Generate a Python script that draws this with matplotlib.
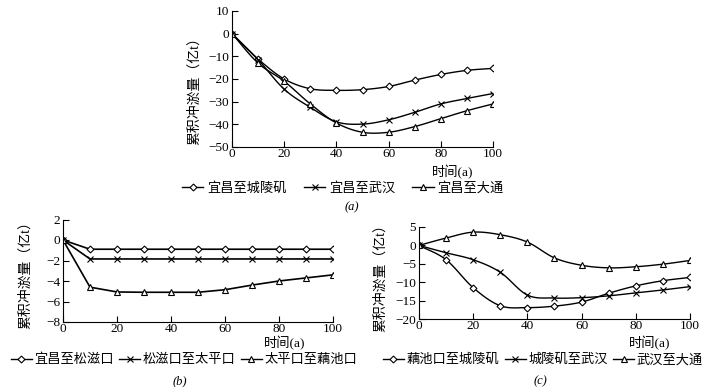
import numpy as np
import matplotlib
matplotlib.use("Agg")
import matplotlib.pyplot as plt

plt.rcParams['font.family'] = ['Liberation Serif', 'Noto Sans CJK SC', 'DejaVu Sans']
plt.rcParams['axes.unicode_minus'] = True

# ---------------------------------- data ---------------------------------------
years = [0, 10, 20, 30, 40, 50, 60, 70, 80, 90, 100]

# (a)
a_names = ['宜昌至城陵矶', '宜昌至武汉', '宜昌至大通']
a_cll = [0, -11.2, -20, -24.3, -25, -24.7, -23.3, -20.5, -18, -16.2, -15.3]
a_wh = [0, -11.5, -24.5, -32.5, -38.9, -39.9, -38, -34.7, -31, -28.6, -26.4]
a_dt = [0, -13, -21, -31, -39.4, -43.5, -43.5, -41, -37.5, -34, -31]

# (b)
b_names = ['宜昌至松滋口', '松滋口至太平口', '太平口至藕池口']
b_szk = [0, -0.9, -0.9, -0.9, -0.9, -0.9, -0.9, -0.9, -0.9, -0.9, -0.9]
b_tpk = [0, -1.85, -1.85, -1.85, -1.85, -1.85, -1.85, -1.85, -1.85, -1.85, -1.85]
b_ock = [0, -4.6, -5.07, -5.1, -5.1, -5.1, -4.85, -4.4, -4.0, -3.7, -3.4]

# (c)
c_names = ['藕池口至城陵矶', '城陵矶至武汉', '武汉至大通']
c_cll = [0, -3.9, -11.5, -16.4, -16.9, -16.5, -15.4, -13, -11, -9.6, -8.7]
c_wh = [0, -2, -3.9, -7.3, -13.5, -14.3, -14.2, -13.7, -12.9, -12.1, -11.2]
c_dt = [0, 2.0, 3.6, 2.9, 0.9, -3.4, -5.4, -6.1, -5.8, -5.1, -4.1]

markers = ['D', 'x', '^']
msizes = [3.5, 5, 4.5]
ylab = '累积冲淤量（亿t）'
xlab = '时间(a)'


def smooth(x, y, n=12):
    # catmull-rom curve through the points, only for the drawn line
    x = np.asarray(x, float)
    y = np.asarray(y, float)
    px = np.concatenate([[2 * x[0] - x[1]], x, [2 * x[-1] - x[-2]]])
    py = np.concatenate([[2 * y[0] - y[1]], y, [2 * y[-1] - y[-2]]])
    t = np.linspace(0, 1, n, endpoint=False)
    xs, ys = [], []
    for i in range(1, len(px) - 2):
        for p, out in ((px, xs), (py, ys)):
            p0, p1, p2, p3 = p[i - 1], p[i], p[i + 1], p[i + 2]
            out.extend(0.5 * (2 * p1 + (-p0 + p2) * t + (2 * p0 - 5 * p1 + 4 * p2 - p3) * t ** 2
                              + (-p0 + 3 * p1 - 3 * p2 + p3) * t ** 3))
    xs.append(x[-1])
    ys.append(y[-1])
    return xs, ys


def draw(ax, series, names, curved, lw):
    handles = []
    for s, name, m, ms in zip(series, names, markers, msizes):
        if curved:
            sx, sy = smooth(years, s)
        else:
            sx, sy = years, s
        ax.plot(sx, sy, color='black', lw=lw)
        ax.plot(years, s, ls='none', marker=m, ms=ms, mfc='white', mec='black', mew=0.8)
        h, = ax.plot([], [], color='black', lw=1, marker=m, ms=ms, mfc='white', mec='black',
                     mew=0.8, label=name)
        handles.append(h)
    return handles


def style(ax, ylim, yticks, ytl):
    ax.set_xlim(0, 100)
    ax.set_ylim(*ylim)
    ax.set_xticks([0, 20, 40, 60, 80, 100])
    ax.set_yticks(yticks)
    ax.set_yticklabels(ytl)
    for sp in ['top', 'right']:
        ax.spines[sp].set_visible(False)
    ax.tick_params(direction='in', length=4, width=0.8, labelsize=9.5, pad=2)
    ax.tick_params(axis='x', pad=1)


fig = plt.figure(figsize=(7.11, 3.87), dpi=100)
W, H = 711.0, 387.0


def box(l, r, t, b):
    return [l / W, 1 - b / H, (r - l) / W, (b - t) / H]


leg_kw = dict(loc='center', ncol=3, frameon=False, fontsize=9.5, handlelength=1.6,
              borderpad=0)

# (a)
ax1 = fig.add_axes(box(232, 493, 11, 147))
hs = draw(ax1, [a_cll, a_wh, a_dt], a_names, True, 1.0)
style(ax1, (-50, 10), [10, 0, -10, -20, -30, -40, -50],
      ['10', '0', '−10', '−20', '−30', '−40', '−50'])
fig.text(194 / W, 1 - 88 / H, ylab, rotation=90, ha='center', va='center', fontsize=10)
fig.text(453 / W, 1 - 172 / H, xlab, ha='center', va='center', fontsize=9.5)
fig.legend(handles=hs, bbox_to_anchor=(343 / W, 1 - 188 / H), handletextpad=0.3,
           columnspacing=1.3, **leg_kw)
fig.text(352 / W, 1 - 207 / H, '(a)', ha='center', va='center', fontsize=9, style='italic')

# (b)
ax2 = fig.add_axes(box(63, 333, 219.5, 322))
hs = draw(ax2, [b_szk, b_tpk, b_ock], b_names, False, 1.2)
style(ax2, (-8, 2), [2, 0, -2, -4, -6, -8], ['2', '0', '−2', '−4', '−6', '−8'])
fig.text(25 / W, 1 - 272 / H, ylab, rotation=90, ha='center', va='center', fontsize=10)
fig.text(285 / W, 1 - 343 / H, xlab, ha='center', va='center', fontsize=9.5)
fig.legend(handles=hs, bbox_to_anchor=(184 / W, 1 - 360 / H), handletextpad=0.2,
           columnspacing=0.4, **leg_kw)
fig.text(180 / W, 1 - 381 / H, '(b)', ha='center', va='center', fontsize=9, style='italic')

# (c)
ax3 = fig.add_axes(box(419, 690, 227, 319))
hs = draw(ax3, [c_cll, c_wh, c_dt], c_names, True, 1.0)
style(ax3, (-20, 5), [5, 0, -5, -10, -15, -20], ['5', '0', '−5', '−10', '−15', '−20'])
fig.text(380 / W, 1 - 275 / H, ylab, rotation=90, ha='center', va='center', fontsize=10)
fig.text(650 / W, 1 - 343 / H, xlab, ha='center', va='center', fontsize=9.5)
fig.legend(handles=hs, bbox_to_anchor=(543 / W, 1 - 360 / H), handletextpad=0.2,
           columnspacing=0.4, **leg_kw)
fig.text(540 / W, 1 - 381 / H, '(c)', ha='center', va='center', fontsize=9, style='italic')

fig.savefig('out.png', dpi=100)
